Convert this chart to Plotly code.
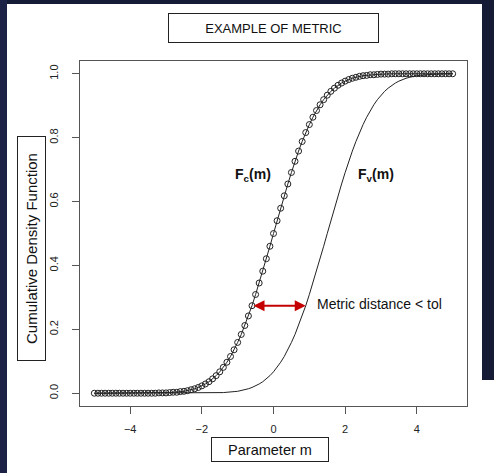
import plotly.graph_objects as go

# ---- data ----
m_values = [round(-5.0 + 0.1 * i, 1) for i in range(101)]

fc_values = (
    [0.000] * 18
    + [0.001, 0.001, 0.001, 0.002, 0.003, 0.003, 0.005, 0.006, 0.008, 0.011,
       0.014, 0.018, 0.023, 0.029, 0.036, 0.045, 0.055, 0.067, 0.081, 0.097,
       0.115, 0.136, 0.159, 0.184, 0.212, 0.242, 0.274, 0.309, 0.345, 0.382,
       0.421, 0.460, 0.500, 0.540, 0.579, 0.618, 0.655, 0.691, 0.726, 0.758,
       0.788, 0.816, 0.841, 0.864, 0.885, 0.903, 0.919, 0.933, 0.945, 0.955,
       0.964, 0.971, 0.977, 0.982, 0.986, 0.989, 0.992, 0.994, 0.995, 0.997,
       0.997, 0.998, 0.999, 0.999, 0.999]
    + [1.000] * 18
)

fv_values = (
    [0.000] * 33
    + [0.001, 0.001, 0.001, 0.002, 0.003, 0.003, 0.005, 0.006, 0.008, 0.011,
       0.014, 0.018, 0.023, 0.029, 0.036, 0.045, 0.055, 0.067, 0.081, 0.097,
       0.115, 0.136, 0.159, 0.184, 0.212, 0.242, 0.274, 0.309, 0.345, 0.382,
       0.421, 0.460, 0.500, 0.540, 0.579, 0.618, 0.655, 0.691, 0.726, 0.758,
       0.788, 0.816, 0.841, 0.864, 0.885, 0.903, 0.919, 0.933, 0.945, 0.955,
       0.964, 0.971, 0.977, 0.982, 0.986, 0.989, 0.992, 0.994, 0.995, 0.997,
       0.997, 0.998, 0.999, 0.999, 0.999]
    + [1.000] * 3
)

x_ticks = [-4, -2, 0, 2, 4]
y_ticks = [0.0, 0.2, 0.4, 0.6, 0.8, 1.0]
y_tick_labels = ["0.0", "0.2", "0.4", "0.6", "0.8", "1.0"]

arrow_x = [-0.6, 0.9]
arrow_y = 0.274

title_text = "EXAMPLE OF METRIC"
x_label = "Parameter m"
y_label = "Cumulative Density Function"
fc_label = "<b>F<sub>c</sub>(m)</b>"
fv_label = "<b>F<sub>v</sub>(m)</b>"
metric_label = "Metric distance < tol"
fc_label_pos = (-0.56, 0.683)
fv_label_pos = (2.85, 0.683)
metric_label_pos = (1.17, 0.28)

# ---- layout geometry ----
W, H = 494, 473
L, R, T, B = 80, 27, 61, 67
PW, PH = W - L - R, H - T - B


def fx(px):
    return (px - L) / PW


def fy(py):
    return (H - B - py) / PH


FONT = "Liberation Sans, Arial, Helvetica, sans-serif"
DARK = "#161b35"

fig = go.Figure()

fig.add_trace(go.Scatter(
    x=m_values, y=fv_values, mode="lines",
    line=dict(color="#222222", width=1),
    showlegend=False, hoverinfo="skip",
))
fig.add_trace(go.Scatter(
    x=m_values, y=fc_values, mode="lines+markers",
    line=dict(color="#222222", width=1),
    marker=dict(symbol="circle-open", size=6, color="#222222", line=dict(width=1)),
    showlegend=False, hoverinfo="skip",
))

annotations = [
    # red double arrow
    dict(x=arrow_x[1], y=arrow_y, ax=arrow_x[0], ay=arrow_y,
         xref="x", yref="y", axref="x", ayref="y", text="",
         showarrow=True, arrowhead=2, startarrowhead=2, arrowside="end+start",
         arrowsize=1.1, startarrowsize=1.1, arrowwidth=2, arrowcolor="#c40000"),
    dict(x=fc_label_pos[0], y=fc_label_pos[1], xref="x", yref="y", text=fc_label,
         xanchor="center", yanchor="middle",
         showarrow=False, font=dict(family=FONT, size=14, color="#111")),
    dict(x=fv_label_pos[0], y=fv_label_pos[1], xref="x", yref="y", text=fv_label,
         xanchor="center", yanchor="middle",
         showarrow=False, font=dict(family=FONT, size=14, color="#111")),
    dict(x=metric_label_pos[0], y=metric_label_pos[1], xref="x", yref="y",
         text=metric_label, xanchor="left", yanchor="middle", showarrow=False,
         font=dict(family=FONT, size=14, color="#111")),
    # boxed title and axis labels
    dict(x=fx(273.5), y=fy(28), xref="paper", yref="paper", text=title_text,
         xanchor="center", yanchor="middle",
         showarrow=False, width=209, height=28, borderpad=0,
         bordercolor="#222", borderwidth=1, bgcolor="white",
         font=dict(family=FONT, size=13, color="#111")),
    dict(x=fx(270), y=fy(449.5), xref="paper", yref="paper", text=x_label,
         xanchor="center", yanchor="middle",
         showarrow=False, width=116, height=23, borderpad=0,
         bordercolor="#222", borderwidth=1, bgcolor="white",
         font=dict(family=FONT, size=14.5, color="#111")),
    dict(x=fx(31.5), y=fy(248.5), xref="paper", yref="paper", text=y_label,
         xanchor="center", yanchor="middle",
         showarrow=False, textangle=-90, width=223, height=27, borderpad=0,
         bordercolor="#222", borderwidth=1, bgcolor="white",
         font=dict(family=FONT, size=15, color="#111")),
]

shapes = [
    dict(type="rect", xref="paper", yref="paper", x0=fx(0), x1=fx(W),
         y0=fy(0), y1=fy(4), fillcolor=DARK, line=dict(width=0), layer="above"),
    dict(type="rect", xref="paper", yref="paper", x0=fx(0), x1=fx(7),
         y0=fy(0), y1=fy(H), fillcolor="#1c2146", line=dict(width=0), layer="above"),
    dict(type="rect", xref="paper", yref="paper", x0=fx(482), x1=fx(W),
         y0=fy(0), y1=fy(380), fillcolor=DARK, line=dict(width=0), layer="above"),
]

axis_common = dict(
    showline=True, mirror=True, linecolor="#555555", linewidth=1,
    ticks="outside", ticklen=7, tickcolor="#555555", tickwidth=1,
    showgrid=False, zeroline=False, automargin=False,
    tickfont=dict(family=FONT, size=11, color="#222"),
)

fig.update_layout(
    width=W, height=H,
    margin=dict(l=L, r=R, t=T, b=B, autoexpand=False),
    paper_bgcolor="white", plot_bgcolor="white",
    xaxis=dict(range=[-5.4, 5.4], tickvals=x_ticks, ticklabelstandoff=6, **axis_common),
    yaxis=dict(range=[-0.04, 1.04], tickvals=y_ticks, ticktext=y_tick_labels,
               tickangle=-90, ticklabelstandoff=10, **axis_common),
    annotations=annotations,
    shapes=shapes,
)

fig.write_html("out.html", config={"displayModeBar": False},
               post_script="document.body.style.margin='0';")
